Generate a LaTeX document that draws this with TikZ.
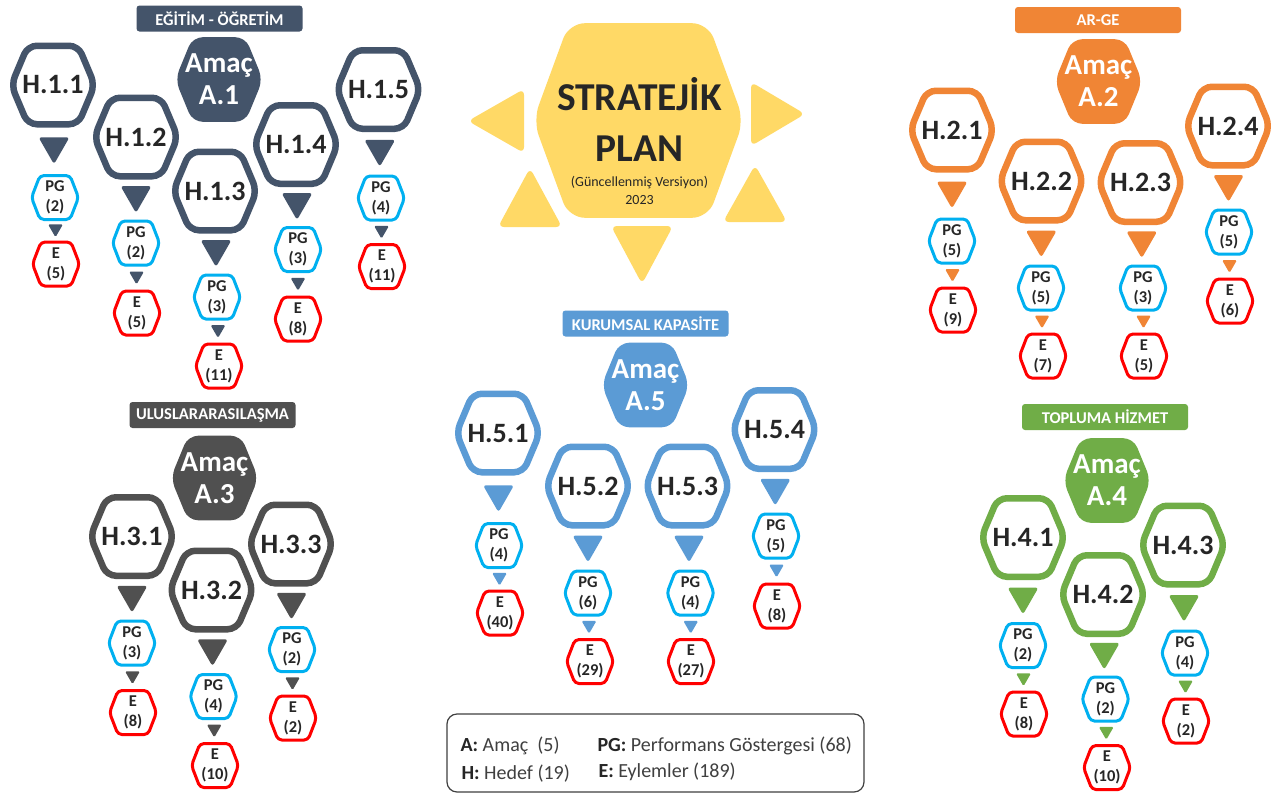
\documentclass[tikz,border=0pt]{standalone}
\usepackage{fontspec}
\setmainfont{Carlito}
\usepackage{tikz}
\usetikzlibrary{calc}

\definecolor{egitim}{HTML}{44546A}
\definecolor{arge}{HTML}{F08535}
\definecolor{ulus}{HTML}{505050}
\definecolor{kurum}{HTML}{5B9BD5}
\definecolor{toplum}{HTML}{70AD47}
\definecolor{gunes}{HTML}{FFD966}
\definecolor{pgmavi}{HTML}{00B0F0}
\definecolor{ekirmizi}{HTML}{FF0000}
\definecolor{yazi}{HTML}{262626}
\definecolor{lejyazi}{HTML}{404040}

\newcommand{\boyut}[2]{\fontsize{#1}{#2}\selectfont}

\tikzset{
    hexq/.store in=\hexq, hexq=.22,
    hexpaint/.style={},
    % altigen: kutunun icine cizilir
    hexcell/.style={inner sep=0pt, text=yazi, align=center,
        path picture={
            \path (path picture bounding box.south west) coordinate (hx1)
                  (path picture bounding box.north east) coordinate (hx2);
            \path[hexpaint]
                let \p1=(hx1), \p2=(hx2), \n1={.5\pgflinewidth},
                    \n2={\x1+\hexq*(\x2-\x1)}, \n3={\x2-\hexq*(\x2-\x1)}
                in (\x1+\n1, .5*\y1+.5*\y2) -- (\n2, \y2-\n1) -- (\n3, \y2-\n1)
                -- (\x2-\n1, .5*\y1+.5*\y2) -- (\n3, \y1+\n1) -- (\n2, \y1+\n1) -- cycle;
        }},
    hedef/.style={hexcell, minimum width=90pt, minimum height=85pt,
        font=\boyut{28}{30}\bfseries,
        hexpaint/.style={draw=#1, line width=6.5pt, rounded corners=9pt}},
    amac/.style={hexcell, minimum width=88pt, minimum height=85pt, hexq=.2,
        text=white, font=\boyut{29}{32}\bfseries,
        hexpaint/.style={fill=#1, rounded corners=10pt}},
    kucuk/.style={hexcell, minimum width=50pt, minimum height=47pt, hexq=.2,
        font=\boyut{16.5}{20}\bfseries,
        hexpaint/.style={draw=#1, line width=3pt, rounded corners=4pt}},
    pg/.style={kucuk=pgmavi},
    eylem/.style={kucuk=ekirmizi},
    baslik/.style={fill=#1, rounded corners=3pt, minimum width=166pt,
        minimum height=26pt, inner sep=0pt, text=white, font=\boyut{16.5}{18}\bfseries},
    % ucgen oklar
    okb/.style={rounded corners=3pt, to path={($(\tikztostart.south)!.5!(\tikztotarget.north)$)
        +(-15.5,-13.5) -- +(15.5,-13.5) -- +(0,13.5) -- cycle}},
    oks/.style={rounded corners=1.5pt, to path={($(\tikztostart.south)!.5!(\tikztotarget.north)$)
        +(-7.5,-6.5) -- +(7.5,-6.5) -- +(0,6.5) -- cycle}},
    ray/.style={fill=gunes, rounded corners=6pt},
    lejant/.style={anchor=base west, text=lejyazi, font=\boyut{20}{22}}
}

\begin{document}
\begin{tikzpicture}[x=1pt, y=-1pt]
    \fill[white] (0,0) rectangle (1285,798);

    % Stratejik plan
    \node[hexcell, minimum width=211pt, minimum height=195pt, hexq=.17,
        hexpaint/.style={fill=gunes, rounded corners=16pt}] (plan) at (638.5,120.5) {};
    \fill[ray] (468,121) -- (524,89) -- (524,153) -- cycle;
    \fill[ray] (805,114) -- (751,82) -- (751,146) -- cycle;
    \fill[ray] (530,168) -- (562,227) -- (498,227) -- cycle;
    \fill[ray] (755,165) -- (787,222) -- (723,222) -- cycle;
    \fill[ray] (642,284) -- (611,226) -- (673,226) -- cycle;
    \node[anchor=base, text=yazi, font=\boyut{39.5}{40}\bfseries] (str1) at (639.5,110.5) {STRATEJİK};
    \node[anchor=base, text=yazi, font=\boyut{39.5}{40}\bfseries] (str2) at (639.5,161.5) {PLAN};
    \node[anchor=base, text=yazi, font=\boyut{14}{16}] (surum) at (639.5,186) {(Güncellenmiş Versiyon)};
    \node[anchor=base, text=yazi, font=\boyut{14}{16}] (yil) at (639.5,204) {2023};

    % Egitim - Ogretim
    \node[baslik=egitim] (b1) at (219.5,18.5) {EĞİTİM - ÖĞRETİM};
    \node[amac=egitim] (a1) at (219,79.5) {Amaç\\A.1};
    \node[hedef=egitim] (h11) at (53,85) {H.1.1};
    \node[pg] (pg11) at (55,197.5) {PG\\(2)};
    \node[eylem] (e11) at (56,264) {E\\(5)};
    \node[hedef=egitim] (h12) at (136,137) {H.1.2};
    \node[pg] (pg12) at (136,243) {PG\\(2)};
    \node[eylem] (e12) at (137,313) {E\\(5)};
    \node[hedef=egitim] (h13) at (215,191) {H.1.3};
    \node[pg] (pg13) at (217,297) {PG\\(3)};
    \node[eylem] (e13) at (219,366) {E\\(11)};
    \node[hedef=egitim] (h14) at (296,144.5) {H.1.4};
    \node[pg] (pg14) at (298,249.5) {PG\\(3)};
    \node[eylem] (e14) at (298,319) {E\\(8)};
    \node[hedef=egitim] (h15) at (378.5,89.5) {H.1.5};
    \node[pg] (pg15) at (381,198) {PG\\(4)};
    \node[eylem] (e15) at (382,266.5) {E\\(11)};
    \fill[egitim] (h11) to[okb] (pg11) (pg11) to[oks] (e11);
    \fill[egitim] (h12) to[okb] (pg12) (pg12) to[oks] (e12);
    \fill[egitim] (h13) to[okb] (pg13) (pg13) to[oks] (e13);
    \fill[egitim] (h14) to[okb] (pg14) (pg14) to[oks] (e14);
    \fill[egitim] (h15) to[okb] (pg15) (pg15) to[oks] (e15);

    % Ar-Ge
    \node[baslik=arge] (b2) at (1098,20) {AR-GE};
    \node[amac=arge] (a2) at (1098.5,81.5) {Amaç\\A.2};
    \node[hedef=arge] (h21) at (952,130) {H.2.1};
    \node[pg] (pg21) at (952,241) {PG\\(5)};
    \node[eylem] (e21) at (953,310) {E\\(9)};
    \node[hedef=arge] (h22) at (1041.5,181) {H.2.2};
    \node[pg] (pg22) at (1041,288) {PG\\(5)};
    \node[eylem] (e22) at (1043,356) {E\\(7)};
    \node[hedef=arge] (h23) at (1140.5,182.5) {H.2.3};
    \node[pg] (pg23) at (1143,288) {PG\\(3)};
    \node[eylem] (e23) at (1144,356) {E\\(5)};
    \node[hedef=arge] (h24) at (1228,126) {H.2.4};
    \node[pg] (pg24) at (1229,232) {PG\\(5)};
    \node[eylem] (e24) at (1230,301) {E\\(6)};
    \fill[arge] (h21) to[okb] (pg21) (pg21) to[oks] (e21);
    \fill[arge] (h22) to[okb] (pg22) (pg22) to[oks] (e22);
    \fill[arge] (h23) to[okb] (pg23) (pg23) to[oks] (e23);
    \fill[arge] (h24) to[okb] (pg24) (pg24) to[oks] (e24);

    % Uluslararasilasma
    \node[baslik=ulus] (b3) at (212.5,415) {ULUSLARARASILAŞMA};
    \node[amac=ulus] (a3) at (214.5,478) {Amaç\\A.3};
    \node[hedef=ulus] (h31) at (132,536.5) {H.3.1};
    \node[pg] (pg31) at (132,643) {PG\\(3)};
    \node[eylem] (e31) at (133,712.5) {E\\(8)};
    \node[hedef=ulus] (h32) at (211.5,590) {H.3.2};
    \node[pg] (pg32) at (213.5,696.5) {PG\\(4)};
    \node[eylem] (e32) at (215,765.5) {E\\(10)};
    \node[hedef=ulus] (h33) at (291,544) {H.3.3};
    \node[pg] (pg33) at (292,649.5) {PG\\(2)};
    \node[eylem] (e33) at (293,718) {E\\(2)};
    \fill[ulus] (h31) to[okb] (pg31) (pg31) to[oks] (e31);
    \fill[ulus] (h32) to[okb] (pg32) (pg32) to[oks] (e32);
    \fill[ulus] (h33) to[okb] (pg33) (pg33) to[oks] (e33);

    % Kurumsal kapasite
    \node[baslik=kurum] (b5) at (645.5,323.5) {KURUMSAL KAPASİTE};
    \node[amac=kurum] (a5) at (645.5,385) {Amaç\\A.5};
    \node[hedef=kurum] (h51) at (498,433) {H.5.1};
    \node[pg] (pg51) at (499,545.5) {PG\\(4)};
    \node[eylem] (e51) at (500,613) {E\\(40)};
    \node[hedef=kurum] (h52) at (588,486) {H.5.2};
    \node[pg] (pg52) at (588,593) {PG\\(6)};
    \node[eylem] (e52) at (590,661.5) {E\\(29)};
    \node[hedef=kurum] (h53) at (687.5,486) {H.5.3};
    \node[pg] (pg53) at (690.5,593) {PG\\(4)};
    \node[eylem] (e53) at (691,661.5) {E\\(27)};
    \node[hedef=kurum] (h54) at (774.5,429.5) {H.5.4};
    \node[pg] (pg54) at (776,536) {PG\\(5)};
    \node[eylem] (e54) at (777,606) {E\\(8)};
    \fill[kurum] (h51) to[okb] (pg51) (pg51) to[oks] (e51);
    \fill[kurum] (h52) to[okb] (pg52) (pg52) to[oks] (e52);
    \fill[kurum] (h53) to[okb] (pg53) (pg53) to[oks] (e53);
    \fill[kurum] (h54) to[okb] (pg54) (pg54) to[oks] (e54);

    % Topluma hizmet
    \node[baslik=toplum] (b4) at (1105,417) {TOPLUMA HİZMET};
    \node[amac=toplum] (a4) at (1107,480.5) {Amaç\\A.4};
    \node[hedef=toplum] (h41) at (1023,537.5) {H.4.1};
    \node[pg] (pg41) at (1023,645.5) {PG\\(2)};
    \node[eylem] (e41) at (1024,714) {E\\(8)};
    \node[hedef=toplum] (h42) at (1103,594.5) {H.4.2};
    \node[pg] (pg42) at (1105.5,699) {PG\\(2)};
    \node[eylem] (e42) at (1107,767.5) {E\\(10)};
    \node[hedef=toplum] (h43) at (1183,545) {H.4.3};
    \node[pg] (pg43) at (1185,653) {PG\\(4)};
    \node[eylem] (e43) at (1186,721) {E\\(2)};
    \fill[toplum] (h41) to[okb] (pg41) (pg41) to[oks] (e41);
    \fill[toplum] (h42) to[okb] (pg42) (pg42) to[oks] (e42);
    \fill[toplum] (h43) to[okb] (pg43) (pg43) to[oks] (e43);

    % Aciklama
    \node[draw=lejyazi, line width=1.2pt, rounded corners=10pt,
        minimum width=417pt, minimum height=78pt] (lej) at (655.5,753) {};
    \node[lejant] (lA) at (457,751.5) {\textcolor{yazi}{\bfseries A:} Amaç\ \ (5)};
    \node[lejant] (lH) at (458,779.5) {\textcolor{yazi}{\bfseries H:} Hedef (19)};
    \node[lejant] (lPG) at (594,751.5) {\textcolor{yazi}{\bfseries PG:} Performans Göstergesi (68)};
    \node[lejant] (lE) at (595,777) {\textcolor{yazi}{\bfseries E:} Eylemler (189)};
\end{tikzpicture}
\end{document}
